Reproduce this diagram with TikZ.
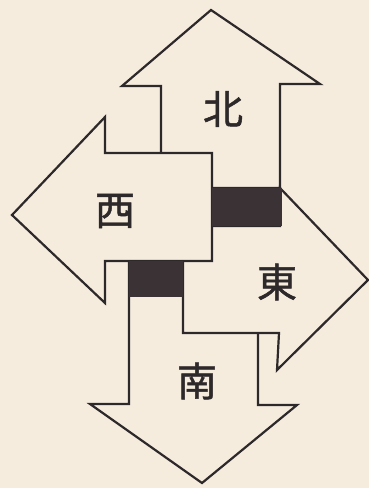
\documentclass[tikz,border=0pt]{standalone}
\usepackage{fontspec}
\newfontfamily\cjk[FakeBold=1.2]{Noto Sans CJK JP}
\definecolor{paper}{RGB}{245,236,222}
\definecolor{ink}{RGB}{45,40,41}
\definecolor{blk}{RGB}{58,50,52}
\tikzset{
  arrowshape/.style={draw=ink, fill=paper, line width=2.2pt, line join=miter},
  blackbox/.style={fill=blk, draw=none},
  dirlabel/.style={font=\cjk\fontsize{40}{40}\selectfont, text=ink, inner sep=0pt}
}
\begin{document}
\begin{tikzpicture}[x=1pt,y=-1pt]
\useasboundingbox (0,0) rectangle (369,488);
\fill[paper] (0,0) rectangle (369,488);
% North
\draw[arrowshape] (211,10) -- (320,84) -- (280,84) -- (280,188) -- (161,188) -- (161,86) -- (122,86) -- cycle;
% South
\draw[arrowshape] (202,483) -- (90,404) -- (129,404) -- (129,261) -- (258,261) -- (258,405) -- (297,405) -- cycle;
% East
\draw[arrowshape] (280,188) -- (368,280) -- (277,370) -- (279,333) -- (183,333) -- (183,226) -- (280,226) -- cycle;
% West
\draw[arrowshape] (12,215) -- (105,117) -- (105,153) -- (212,153) -- (212,261) -- (105,261) -- (105,303) -- cycle;
% black squares
\fill[blackbox] (212,188) rectangle (282,226);
\fill[blackbox] (129,261) rectangle (183,297);
% labels
\node[dirlabel] (north) at (223,109) {北};
\node[dirlabel] (west) at (115,211) {西};
\node[dirlabel] (east) at (277,282) {東};
\node[dirlabel] (south) at (197,381) {南};
\end{tikzpicture}
\end{document}
